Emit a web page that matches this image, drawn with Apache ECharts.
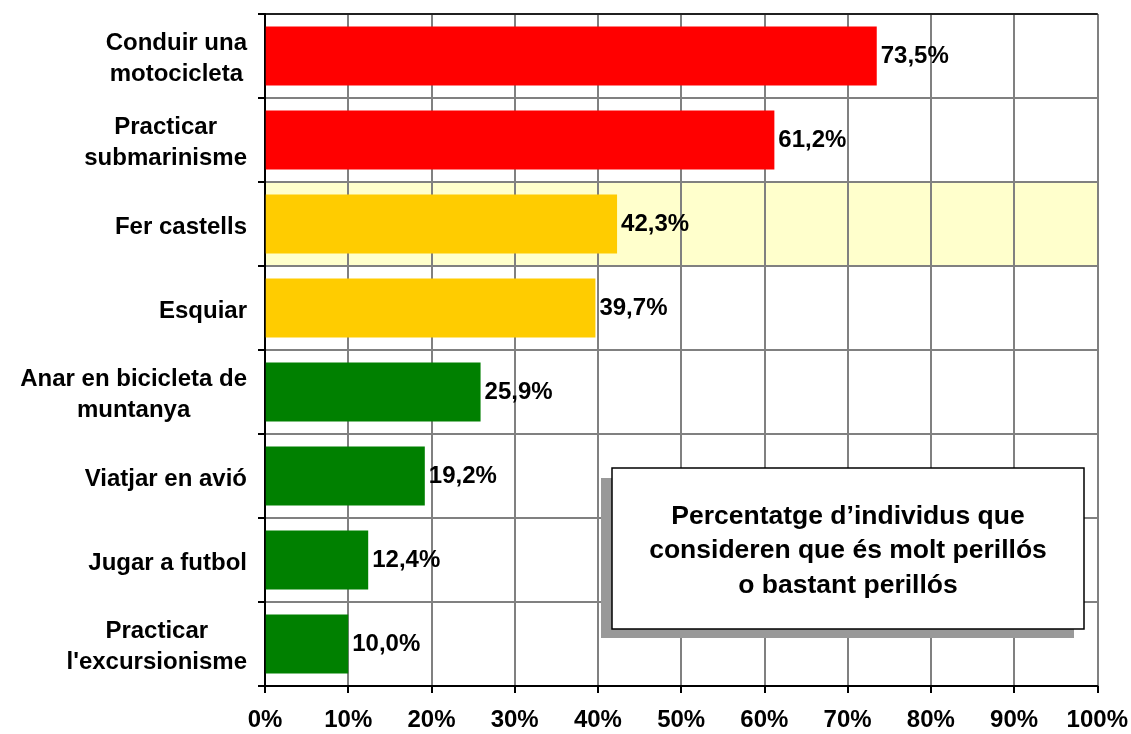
<!DOCTYPE html>
<html>
<head>
<meta charset="utf-8">
<script src="https://cdn.jsdelivr.net/npm/echarts@6/dist/echarts.min.js"></script>
<style>
  html, body { margin: 0; padding: 0; background: #fff; }
  #main { width: 1131px; height: 734px; }
</style>
</head>
<body>
<div id="main"></div>
<script>
// dades
var activitats = ['Conduir una\nmotocicleta', 'Practicar\nsubmarinisme', 'Fer castells', 'Esquiar',
    'Anar en bicicleta de\nmuntanya', 'Viatjar en avió', 'Jugar a futbol', 'Practicar\nl\'excursionisme'];
var percentatges = [73.5, 61.2, 42.3, 39.7, 25.9, 19.2, 12.4, 10.0];
var colors = ['#FF0000', '#FF0000', '#FFCC00', '#FFCC00', '#008000', '#008000', '#008000', '#008000'];
var xTicks = [0, 10, 20, 30, 40, 50, 60, 70, 80, 90, 100];
var titol = ['Percentatge d\u2019individus que', 'consideren que és molt perillós', 'o bastant perillós'];

var myChart = echarts.init(document.getElementById('main'));

var font = '"Liberation Sans", Arial, sans-serif';

var option = {
    animation: false,
    grid: {
        left: 265, right: 33, top: 14, bottom: 48
    },
    xAxis: [{
        type: 'value',
        min: xTicks[0], max: xTicks[xTicks.length - 1], interval: 10,
        axisLine: { show: true, lineStyle: { color: '#000', width: 2 } },
        axisTick: { show: true, length: 7, lineStyle: { color: '#000', width: 2 } },
        axisLabel: {
            margin: 22,
            fontFamily: font, fontWeight: 'bold', fontSize: 24, color: '#000',
            formatter: function (v) { return v + '%'; }
        },
        splitLine: { show: true, lineStyle: { color: '#808080', width: 2 } }
    }, {
        // vora superior
        type: 'value', position: 'top', min: 0, max: 100, z: 5,
        axisLine: { show: true, lineStyle: { color: '#000', width: 1.5 } },
        axisTick: { show: false }, axisLabel: { show: false }, splitLine: { show: false }
    }],
    yAxis: [{
        type: 'category',
        inverse: true,
        data: activitats,
        axisLine: { show: true, lineStyle: { color: '#000', width: 2 } },
        axisTick: { show: true, length: 7, inside: false, lineStyle: { color: '#000', width: 2 } },
        axisLabel: {
            margin: 18,
            align: 'right',
            padding: [6, 0, 0, 0],
            fontFamily: font, fontWeight: 'bold', fontSize: 24, color: '#000', lineHeight: 31,
            formatter: function (v) {
                return v.split('\n').map(function (s) { return '{c|' + s + '}'; }).join('\n');
            },
            rich: {
                c: { align: 'center', fontFamily: font, fontWeight: 'bold', fontSize: 24, color: '#000', lineHeight: 31 }
            }
        },
        splitLine: { show: true, lineStyle: { color: '#808080', width: 2 } },
        splitArea: {
            show: true,
            areaStyle: { color: ['rgba(0,0,0,0)', 'rgba(0,0,0,0)', '#FFFFCC', 'rgba(0,0,0,0)',
                'rgba(0,0,0,0)', 'rgba(0,0,0,0)', 'rgba(0,0,0,0)', 'rgba(0,0,0,0)'] }
        }
    }, {
        // vora dreta
        type: 'value', position: 'right', min: 0, max: 1, z: 5,
        axisLine: { show: true, lineStyle: { color: '#000', width: 1.5 } },
        axisTick: { show: false }, axisLabel: { show: false }, splitLine: { show: false }
    }],
    series: [{
        type: 'bar',
        data: percentatges.map(function (v, i) {
            return { value: v, itemStyle: { color: colors[i] } };
        }),
        barCategoryGap: '30%',
        label: {
            show: true,
            position: 'right',
            distance: 4,
            padding: [3, 0, 0, 0],
            fontFamily: font, fontWeight: 'bold', fontSize: 24, color: '#000',
            formatter: function (p) { return p.value.toFixed(1).replace('.', ',') + '%'; }
        }
    }],
    graphic: [
        { type: 'rect', shape: { x: 601, y: 478, width: 473, height: 160 }, style: { fill: '#999999' }, z: 10 },
        { type: 'rect', shape: { x: 612, y: 468, width: 472, height: 161 },
          style: { fill: '#fff', stroke: '#000', lineWidth: 1.5 }, z: 11 },
        { type: 'text', x: 848, y: 551, z: 12,
          style: {
              text: titol.join('\n'),
              font: 'bold 26.5px ' + font,
              fill: '#000', align: 'center', verticalAlign: 'middle', lineHeight: 34.5
          } }
    ]
};

myChart.setOption(option);

window.onresize = function () {
    myChart.resize();
};
</script>
</body>
</html>
